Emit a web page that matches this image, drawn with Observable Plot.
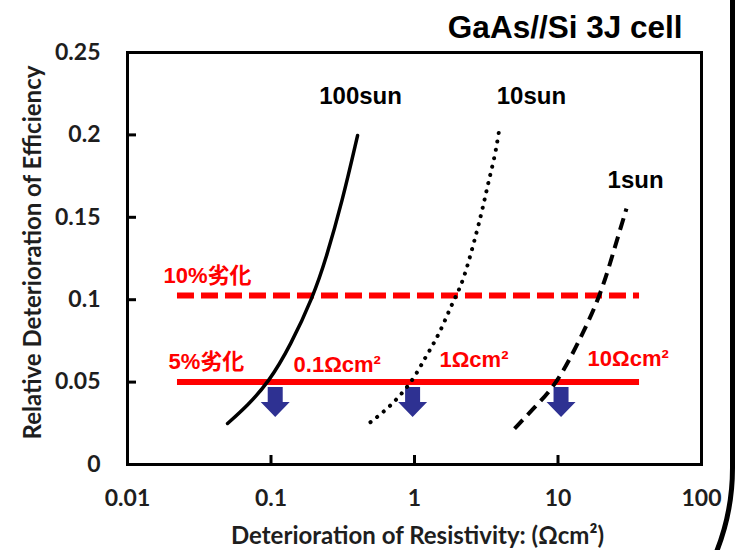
<!DOCTYPE html>
<html>
<head>
<meta charset="utf-8">
<script src="https://cdn.jsdelivr.net/npm/d3@7"></script>
<script src="https://cdn.jsdelivr.net/npm/@observablehq/plot@0.6"></script>
<style>
  html, body { margin: 0; padding: 0; background: #fff; }
  #wrap { position: relative; width: 736px; height: 550px; overflow: hidden; background: #fff; }
  #wrap svg { display: block; }
  #border { position: absolute; left: -40px; top: -40px; width: 775px; height: 738px;
            box-sizing: border-box; border: 5px solid #000; border-bottom-right-radius: 230px;
            pointer-events: none; }
</style>
</head>
<body>
<div id="wrap"><div id="border"></div></div>
<script>
// ---- data ----
const title = "GaAs//Si 3J cell";
const xTicks = [0.01, 0.1, 1, 10, 100];
const xTickLabels = ["0.01", "0.1", "1", "10", "100"];
const yTicks = [0, 0.05, 0.1, 0.15, 0.2, 0.25];
const yTickLabels = ["0", "0.05", "0.1", "0.15", "0.2", "0.25"];
const xTitle = "Deterioration of Resistivity: (Ωcm²)";
const yTitle = "Relative Deterioration of Efficiency";

// 100 sun (solid)
const sun100X = [0.0498, 0.0686, 0.0961, 0.1368, 0.1977, 0.2398, 0.315, 0.401];
const sun100Y = [0.0249, 0.0358, 0.0498, 0.0722, 0.1025, 0.1238, 0.1602, 0.1996];
// 10 sun (dotted)
const sun10X = [0.4935, 0.628, 0.777, 0.989, 1.193, 1.401, 1.600, 1.831, 2.092, 2.329, 2.735, 3.040, 3.294, 3.668, 3.912];
const sun10Y = [0.0257, 0.0328, 0.0408, 0.0520, 0.0651, 0.0752, 0.0856, 0.0977, 0.1076, 0.1197, 0.1420, 0.1584, 0.1723, 0.1887, 0.2043];
// 1 sun (dashed)
const sun1X = [4.98, 7.196, 9.93, 14.12, 19.78, 24.75, 30.0];
const sun1Y = [0.0218, 0.0364, 0.0498, 0.0752, 0.1025, 0.1311, 0.1553];

// series labels
const seriesLabels = ["100sun", "10sun", "1sun"];
const seriesLabelX = [0.421, 6.53, 34.7];
const seriesLabelY = [0.2236, 0.2236, 0.1726];

// threshold lines (10% and 5% deterioration)
const thresholdY = [0.1025, 0.05];
const thresholdFrom = 0.0223;
const thresholdTo = 37;
const thresholdLabels = ["10%劣化", "5%劣化"];
const thresholdLabelX = [0.0178, 0.0193];
const thresholdLabelY = [0.1144, 0.0622];

// critical resistivity markers
const criticalLabels = ["0.1Ωcm²", "1Ωcm²", "10Ωcm²"];
const criticalLabelX = [0.1436, 1.493, 16.07];
const criticalLabelY = [0.0604, 0.0634, 0.064];
const arrowX = [0.107, 0.97, 10.5];
const arrowTop = 0.047;

// ---- build tables ----
const zip = (xs, ys) => xs.map((x, i) => ({x, y: ys[i]}));
const s100 = zip(sun100X, sun100Y);
const s10 = zip(sun10X, sun10Y);
const s1 = zip(sun1X, sun1Y);
const sLab = seriesLabels.map((t, i) => ({t, x: seriesLabelX[i], y: seriesLabelY[i]}));
const tLab = thresholdLabels.map((t, i) => ({t, x: thresholdLabelX[i], y: thresholdLabelY[i]}));
const cLab = criticalLabels.map((t, i) => ({t, x: criticalLabelX[i], y: criticalLabelY[i]}));

const RED = "#ff0000";
const NAVY = "#2e3192";
const INK = "#1e1e1e";
const ARIAL = "'Liberation Sans', Arial, 'Noto Sans CJK JP', sans-serif";

const blockArrow = {
  draw(context, l) {
    const sw = 7.5, hw = 14.5, hl = 15;
    context.moveTo(-sw, 0);
    context.lineTo(sw, 0);
    context.lineTo(sw, -(l - hl));
    context.lineTo(hw, -(l - hl));
    context.lineTo(0, -l);
    context.lineTo(-hw, -(l - hl));
    context.lineTo(-sw, -(l - hl));
    context.closePath();
  }
};

const W = 736, H = 550, mT = 52, mR = 35, mB = 86, mL = 127;
const frameW = W - mL - mR, frameH = H - mT - mB;

const chart = Plot.plot({
  width: W, height: H,
  marginTop: mT, marginRight: mR, marginBottom: mB, marginLeft: mL,
  style: {background: "#fff", fontFamily: "Lato, 'Open Sans', sans-serif", color: "#000"},
  x: {type: "log", domain: [0.01, 100]},
  y: {domain: [0, 0.25]},
  marks: [
    Plot.axisX(xTicks, {tickSize: 0, tickPadding: 25, fontSize: 23, fontWeight: 700, fill: INK,
      tickFormat: d => xTickLabels[xTicks.indexOf(d)], label: null}),
    Plot.axisY(yTicks, {tickSize: 0, tickPadding: 27, fontSize: 23, fontWeight: 700, fill: INK,
      tickFormat: d => yTickLabels[yTicks.indexOf(d)], label: null}),
    // inward ticks
    Plot.ruleX(xTicks.slice(1, -1), {x: d => d, stroke: "#000", strokeWidth: 3, insetTop: frameH - 9}),
    Plot.ruleY(yTicks.slice(1, -1), {y: d => d, stroke: "#000", strokeWidth: 3, insetRight: frameW - 9}),
    Plot.frame({stroke: "#000", strokeWidth: 3}),
    // axis titles
    Plot.text([yTitle], {frameAnchor: "left", rotate: -90, dx: -94, dy: -6, textAnchor: "middle",
      lineAnchor: "middle", fontSize: 24, fontWeight: 700, fill: INK}),
    Plot.text([xTitle], {frameAnchor: "bottom", dx: 3, dy: 72, textAnchor: "middle",
      lineAnchor: "middle", fontSize: 24, fontWeight: 700, fill: INK}),
    // chart title
    Plot.text([title], {frameAnchor: "top-right", dx: -19, dy: -25, textAnchor: "end",
      lineAnchor: "middle", fontSize: 31.5, fontWeight: 700, fontFamily: ARIAL, fill: "#000"}),
    // threshold lines
    Plot.ruleY([thresholdY[0]], {y: d => d, x1: thresholdFrom, x2: thresholdTo, stroke: RED,
      strokeWidth: 6, strokeDasharray: "17,7"}),
    Plot.ruleY([thresholdY[1]], {y: d => d, x1: thresholdFrom, x2: thresholdTo, stroke: RED,
      strokeWidth: 6}),
    // arrows
    Plot.vector(arrowX, {x: d => d, y: () => arrowTop, length: 30, rotate: 180, anchor: "start",
      shape: blockArrow, fill: NAVY, stroke: "none"}),
    // curves
    Plot.line(s100, {x: "x", y: "y", stroke: "#000", strokeWidth: 3.5, curve: "basis"}),
    Plot.line(s10, {x: "x", y: "y", stroke: "#000", strokeWidth: 4, strokeDasharray: "0.1,8.4",
      strokeLinecap: "round", curve: "basis"}),
    Plot.line(s1, {x: "x", y: "y", stroke: "#000", strokeWidth: 4, strokeDasharray: "12,7",
      strokeLinecap: "butt", curve: "basis"}),
    // labels
    Plot.text(sLab, {x: "x", y: "y", text: "t", textAnchor: "middle", lineAnchor: "middle",
      fontSize: 24, fontWeight: 700, fontFamily: ARIAL, fill: "#000"}),
    Plot.text(tLab, {x: "x", y: "y", text: "t", textAnchor: "start", lineAnchor: "middle",
      fontSize: 22, fontWeight: 700, fontFamily: ARIAL, fill: RED}),
    Plot.text(cLab, {x: "x", y: "y", text: "t", textAnchor: "start", lineAnchor: "middle",
      fontSize: 22, fontWeight: 700, fontFamily: ARIAL, fill: RED})
  ]
});
document.getElementById("wrap").prepend(chart);
</script>
</body>
</html>
